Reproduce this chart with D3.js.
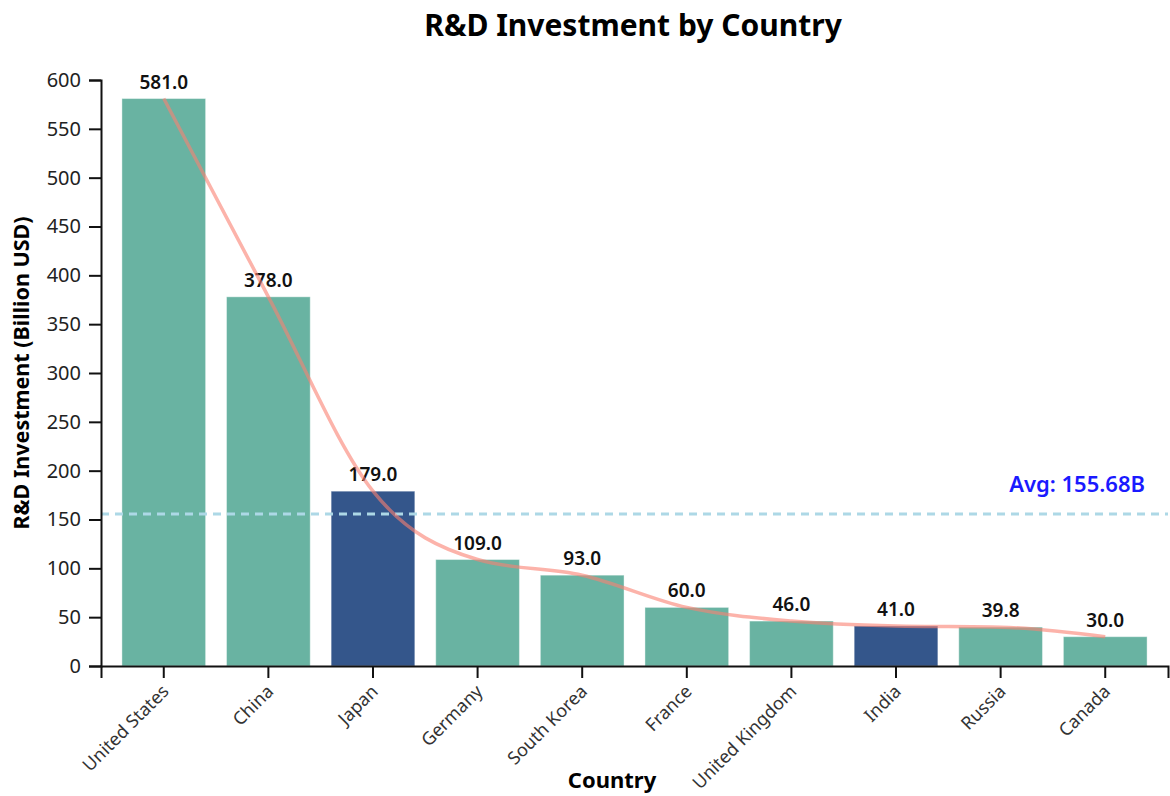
<!DOCTYPE html>
<html>
<head>
<meta charset="utf-8">
<script src="https://cdn.jsdelivr.net/npm/d3@7"></script>
<style>
  body { margin: 0; background: #fff; }
  svg { font-family: 'Noto Sans', sans-serif; }
</style>
</head>
<body>
<svg id="chart" width="1170" height="796"></svg>
<script>
const countries = ['United States', 'China', 'Japan', 'Germany', 'South Korea', 'France', 'United Kingdom', 'India', 'Russia', 'Canada']
const investment = [581.0, 378.0, 179.0, 109.0, 93.0, 60.0, 46.0, 41.0, 39.8, 30.0]
const highlighted = ['Japan', 'India']
const yTicks = [0, 50, 100, 150, 200, 250, 300, 350, 400, 450, 500, 550, 600]

const width = 1170
const height = 796
const margin = { top: 80, right: 2, bottom: 130, left: 101 }

const svg = d3.select('#chart')

/* scales */
const xScale = d3
  .scaleBand()
  .domain(countries)
  .range([margin.left, width - margin.right])
  .padding(0.2)

const yScale = d3
  .scaleLinear()
  .domain([0, 600])
  .range([height - margin.bottom, margin.top])

const avg = d3.mean(investment)

/* bars */
svg
  .append('g')
  .selectAll('rect')
  .data(countries)
  .join('rect')
  .attr('x', (d) => xScale(d))
  .attr('y', (d, i) => yScale(investment[i]))
  .attr('width', xScale.bandwidth())
  .attr('height', (d, i) => yScale(0) - yScale(investment[i]))
  .attr('fill', (d) => (highlighted.includes(d) ? '#34568b' : '#69b3a2'))
  .attr('stroke', '#ffffff')
  .attr('stroke-opacity', 0.4)
  .attr('stroke-width', 1)

/* value labels */
svg
  .append('g')
  .selectAll('text')
  .data(countries)
  .join('text')
  .attr('x', (d) => xScale(d) + xScale.bandwidth() / 2)
  .attr('y', (d, i) => yScale(investment[i]) - 10)
  .attr('text-anchor', 'middle')
  .attr('font-size', 19)
  .attr('font-weight', 600)
  .attr('fill', '#111')
  .text((d, i) => investment[i].toFixed(1))

/* average line */
svg
  .append('line')
  .attr('x1', margin.left)
  .attr('x2', width - margin.right)
  .attr('y1', yScale(avg))
  .attr('y2', yScale(avg))
  .attr('stroke', '#add8e6')
  .attr('stroke-width', 3)
  .attr('stroke-dasharray', '8,6')

svg
  .append('text')
  .attr('x', width - 25)
  .attr('y', yScale(avg) - 22)
  .attr('text-anchor', 'end')
  .attr('font-size', 22)
  .attr('font-weight', 600)
  .attr('fill', '#1a1aff')
  .text(`Avg: ${avg.toFixed(2)}B`)

/* trend line */
svg
  .append('path')
  .datum(investment)
  .attr('fill', 'none')
  .attr('stroke', '#fa8072')
  .attr('stroke-opacity', 0.6)
  .attr('stroke-width', 3.5)
  .attr(
    'd',
    d3
      .line()
      .x((d, i) => xScale(countries[i]) + xScale.bandwidth() / 2)
      .y((d) => yScale(d))
      .curve(d3.curveMonotoneX)
  )

/* axis */
const yAxis = svg
  .append('g')
  .attr('transform', `translate(${margin.left}, 0)`)
  .call(d3.axisLeft(yScale).tickValues(yTicks).tickSize(12).tickPadding(8))
yAxis.selectAll('text').attr('font-size', 20).attr('fill', '#222').attr('font-family', 'Noto Sans')
yAxis.selectAll('line, path').attr('stroke', '#111').attr('stroke-width', 2)

const xAxis = svg
  .append('g')
  .attr('transform', `translate(0, ${height - margin.bottom})`)
  .call(d3.axisBottom(xScale).tickSize(12).tickPadding(3))
xAxis.selectAll('line, path').attr('stroke', '#111').attr('stroke-width', 2)
xAxis
  .selectAll('text')
  .attr('font-size', 18)
  .attr('fill', '#333')
  .attr('font-family', 'Noto Sans')
  .attr('text-anchor', 'end')
  .attr('dx', '-0.8em')
  .attr('dy', '0.45em')
  .attr('transform', 'rotate(-45)')

/* titles */
svg
  .append('text')
  .attr('x', 633)
  .attr('y', 36)
  .attr('text-anchor', 'middle')
  .attr('font-size', 30)
  .attr('font-weight', 'bold')
  .text('R&D Investment by Country')

svg
  .append('text')
  .attr('x', 612)
  .attr('y', 788)
  .attr('text-anchor', 'middle')
  .attr('font-size', 22)
  .attr('font-weight', 'bold')
  .text('Country')

svg
  .append('text')
  .attr('transform', `translate(29, ${(margin.top + height - margin.bottom) / 2}) rotate(-90)`)
  .attr('text-anchor', 'middle')
  .attr('font-size', 21.5)
  .attr('font-weight', 'bold')
  .text('R&D Investment (Billion USD)')
</script>
</body>
</html>
